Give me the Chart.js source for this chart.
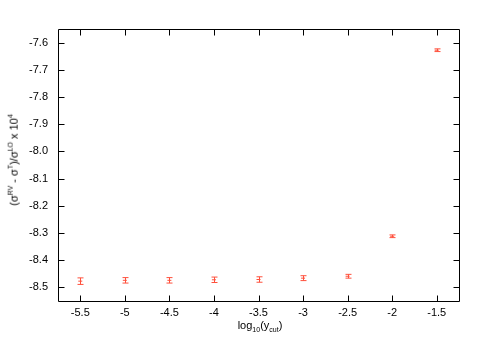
<!DOCTYPE html>
<html>
<head>
<meta charset="utf-8">
<script src="https://cdn.jsdelivr.net/npm/chart.js@4"></script>
<style>
  body { margin: 0; background: #fff; }
  #wrap { position: relative; width: 500px; height: 350px; }
  .lbl { position: absolute; font-family: "Liberation Sans", Arial, sans-serif; font-size: 11px; color: #000; white-space: nowrap; line-height: 1; }
  .lbl sub, .lbl sup { font-size: 7px; }
  #xt { left: 0; width: 520px; top: 320px; text-align: center; }
  #yt { left: 13px; top: 160px; transform: translate(-50%, -50%) rotate(-90deg); }
</style>
</head>
<body>
<div id="wrap">
  <canvas id="chart" width="500" height="350"></canvas>
  <div class="lbl" id="xt">log<sub>10</sub>(y<sub>cut</sub>)</div>
  <div class="lbl" id="yt">(σ<sup>RV</sup> - σ<sup>T</sup>)/σ<sup>LO</sup> x 10<sup>4</sup></div>
</div>
<script>
const logYcut = [-5.5, -5, -4.5, -4, -3.5, -3, -2.5, -2, -1.5];
const values = [-8.477, -8.474, -8.474, -8.472, -8.471, -8.466, -8.459, -8.312, -7.628];
const errors = [0.012, 0.010, 0.010, 0.010, 0.010, 0.009, 0.007, 0.005, 0.005];
const xTicks = [-5.5, -5, -4.5, -4, -3.5, -3, -2.5, -2, -1.5];
const yTicks = [-8.5, -8.4, -8.3, -8.2, -8.1, -8.0, -7.9, -7.8, -7.7, -7.6];

const red = 'rgb(255,80,60)';

// error bars, frame and inward ticks (gnuplot look)
const gnuplotBits = {
    id: 'gnuplotBits',
    afterDatasetsDraw(chart) {
        const ctx = chart.ctx;
        const xs = chart.scales.x, ys = chart.scales.y;
        const a = chart.chartArea;
        ctx.save();
        ctx.strokeStyle = red;
        ctx.lineWidth = 1;
        logYcut.forEach((xv, i) => {
            const px = Math.round(xs.getPixelForValue(xv)) + 0.5;
            const top = ys.getPixelForValue(values[i] + errors[i]);
            const bot = ys.getPixelForValue(values[i] - errors[i]);
            ctx.beginPath();
            ctx.moveTo(px, top); ctx.lineTo(px, bot);
            ctx.moveTo(px - 3, top); ctx.lineTo(px + 3, top);
            ctx.moveTo(px - 3, bot); ctx.lineTo(px + 3, bot);
            ctx.stroke();
        });
        ctx.strokeStyle = '#000';
        const l = Math.round(a.left) + 0.5, r = Math.round(a.right) + 0.5;
        const t = Math.round(a.top) + 0.5, b = Math.round(a.bottom) + 0.5;
        ctx.beginPath();
        ctx.rect(l, t, r - l, b - t);
        xTicks.forEach(v => {
            const px = Math.round(xs.getPixelForValue(v)) + 0.5;
            ctx.moveTo(px, b); ctx.lineTo(px, b - 6);
            ctx.moveTo(px, t); ctx.lineTo(px, t + 6);
        });
        yTicks.forEach(v => {
            const py = Math.round(ys.getPixelForValue(v)) + 0.5;
            ctx.moveTo(l, py); ctx.lineTo(l + 6, py);
            ctx.moveTo(r, py); ctx.lineTo(r - 6, py);
        });
        ctx.stroke();
        ctx.restore();
    }
};

new Chart(document.getElementById('chart'), {
    type: 'scatter',
    data: {
        datasets: [{
            data: logYcut.map((x, i) => ({x: x, y: values[i]})),
            pointStyle: 'line',
            radius: 2,
            borderColor: red,
            borderWidth: 1,
            backgroundColor: red
        }]
    },
    options: {
        responsive: false,
        animation: false,
        layout: { padding: { top: 29, right: 41, left: 0, bottom: 0 } },
        plugins: { legend: { display: false }, tooltip: { enabled: false } },
        scales: {
            x: {
                type: 'linear',
                min: -5.75, max: -1.25,
                grid: { display: false, drawTicks: false },
                border: { display: false },
                afterFit: s => { s.height = 49; },
                afterBuildTicks: s => { s.ticks = xTicks.map(v => ({value: v})); },
                ticks: {
                    padding: 5,
                    color: '#000',
                    font: { family: '"Liberation Sans", Arial, sans-serif', size: 11 },
                    callback: v => String(+v.toFixed(1))
                }
            },
            y: {
                min: -8.55, max: -7.55,
                grid: { display: false, drawTicks: false },
                border: { display: false },
                afterFit: s => { s.width = 58; },
                afterBuildTicks: s => { s.ticks = yTicks.map(v => ({value: v})); },
                ticks: {
                    padding: 10,
                    color: '#000',
                    font: { family: '"Liberation Sans", Arial, sans-serif', size: 11 },
                    callback: v => v.toFixed(1)
                }
            }
        }
    },
    plugins: [gnuplotBits]
});
</script>
</body>
</html>
